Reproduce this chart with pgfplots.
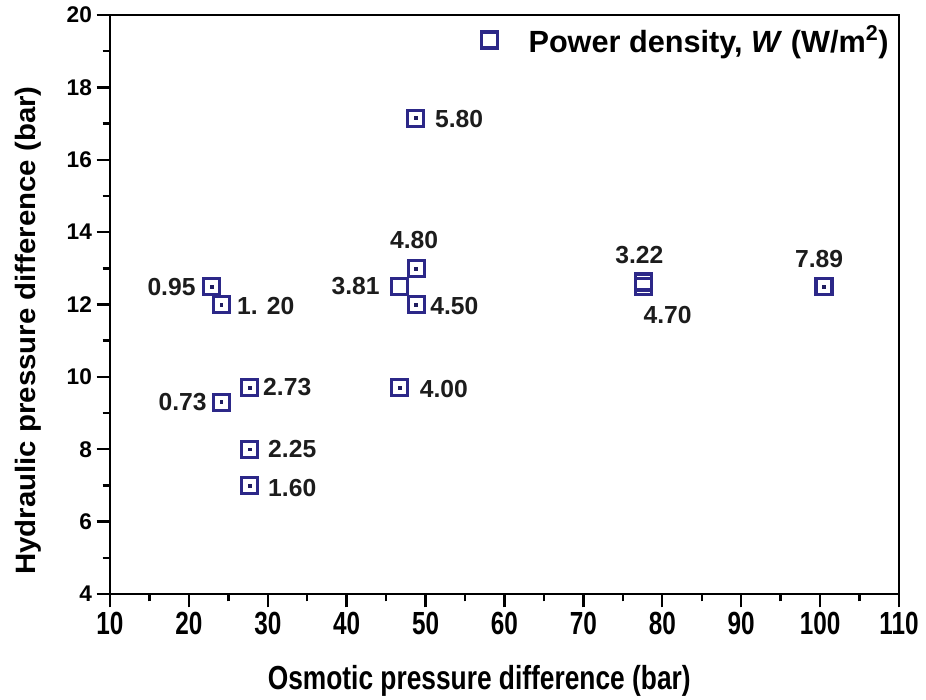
\documentclass[border=0pt]{standalone}
\usepackage{pgfplots}
\pgfplotsset{compat=1.18}
\usepackage{pgfplotstable}
\usepackage{fontspec}
\setmainfont{Liberation Sans}
% narrow face for the x tick numbers and the axis titles
\newfontfamily\xtickfont[FakeStretch=0.76]{Liberation Sans}
\newfontfamily\xlabelfont[FakeStretch=0.79]{Liberation Sans}
\newfontfamily\ylabelfont[FakeStretch=1.05]{Liberation Sans}
\definecolor{markblue}{RGB}{44,40,136}
\definecolor{labelgray}{RGB}{28,28,28}

% osmotic dp (bar), hydraulic dp (bar), centre dot position (nan = none)
\pgfplotstableread{
x     y     ydot
22.9  12.5  12.5
24.1  12.0  12.0
24.1  9.3   9.3
27.7  9.7   9.7
27.7  8.0   8.0
27.7  7.0   7.0
46.7  12.5  nan
48.8  13.0  13.0
48.8  12.0  12.0
46.7  9.7   9.7
48.7  17.15 17.15
77.6  12.62 nan
77.6  12.5  nan
100.5 12.5  12.5
}\powertable

% power density label: x, y, anchor, offset in px, text
\newcommand\wlabel[6]{%
  \node[anchor=#3, inner sep=0pt, xshift=#4*0.75pt, yshift=#5*0.75pt,
    font=\bfseries\fontsize{18.5}{18.5}\selectfont, text=labelgray]
    at (axis cs:#1,#2) {#6};}

\begin{document}
\begin{tikzpicture}
\begin{axis}[
  at={(0,0)}, anchor=south west,
  scale only axis,
  width=591.75pt, height=434.25pt,
  xmin=10, xmax=110, ymin=4, ymax=20,
  xtick={10,20,...,110}, ytick={4,6,...,20},
  minor x tick num=1, minor y tick num=1,
  tick pos=left, tick align=outside,
  major tick length=10pt, minor tick length=5.5pt,
  tick style={black, line width=1.8pt},
  axis line style={black, line width=1.8pt},
  unbounded coords=discard,
  clip=false,
  /pgf/number format/assume math mode=true,
  yticklabel style={font=\bfseries\fontsize{17}{17}\selectfont, text=black},
  xticklabel style={font=\xtickfont\bfseries\fontsize{24}{24}\selectfont, text=black},
  xlabel={Osmotic pressure difference (bar)},
  ylabel={Hydraulic pressure difference (bar)},
  xlabel style={font=\xlabelfont\bfseries\fontsize{25}{25}\selectfont,
    at={(axis description cs:0.468,-0.150)}, anchor=center},
  ylabel style={font=\ylabelfont\bfseries\fontsize{21}{21}\selectfont,
    at={(axis description cs:-0.104,0.455)}, anchor=center},
  legend style={draw=none, fill=none, inner sep=0pt,
    font=\bfseries\fontsize{23}{23}\selectfont,
    at={(axis description cs:0.471,0.9568)}, anchor=west,
    /tikz/every odd column/.append style={column sep=21pt}},
  legend cell align=left,
]
% long outward ticks at the labelled values
\pgfplotsinvokeforeach{10,20,30,40,50,60,70,80,90,100,110}{
  \draw[black, line width=1.8pt] (axis cs:#1,4) -- ++(0pt,-10pt);}
\pgfplotsinvokeforeach{4,6,8,10,12,14,16,18,20}{
  \draw[black, line width=1.8pt] (axis cs:10,#1) -- ++(-10pt,0pt);}
% open squares
\addplot[only marks, mark=square, mark size=6pt,
  mark options={draw=markblue, line width=2.4pt}]
  table[x=x, y=y] {\powertable};
\addlegendentry{Power density, \textit{W} (W/m\textsuperscript{2})}
% centre dots
\addplot[only marks, mark=square*, mark size=1.1pt,
  color=markblue!70!black, forget plot]
  table[x=x, y=ydot] {\powertable};
% power density written beside each square
\wlabel{22.9}{12.5}{base east}{-16}{-9.5}{0.95}
\wlabel{24.1}{12.0}{base west}{15.7}{-10.3}{1. 20}
\wlabel{24.1}{9.3}{base east}{-14.3}{-8.4}{0.73}
\wlabel{27.7}{9.7}{base west}{13.3}{-7.7}{2.73}
\wlabel{27.7}{8.0}{base west}{18.3}{-8.6}{2.25}
\wlabel{27.7}{7.0}{base west}{18.3}{-11.4}{1.60}
\wlabel{46.7}{12.5}{base east}{-19.7}{-8}{3.81}
\wlabel{48.8}{13.0}{base}{-2}{19.4}{4.80}
\wlabel{48.8}{12.0}{base west}{14}{-9.6}{4.50}
\wlabel{46.7}{9.7}{base west}{20}{-10}{4.00}
\wlabel{48.7}{17.15}{base west}{19.5}{-9.4}{5.80}
\wlabel{77.6}{12.62}{base}{-4}{18.9}{3.22}
\wlabel{77.6}{12.5}{base west}{0}{-36.8}{4.70}
\wlabel{100.5}{12.5}{base}{-5}{19}{7.89}
\end{axis}
\pgfresetboundingbox
\path[use as bounding box] (-82.5pt,-79.5pt) rectangle (612pt,445.5pt);
\end{tikzpicture}
\end{document}
